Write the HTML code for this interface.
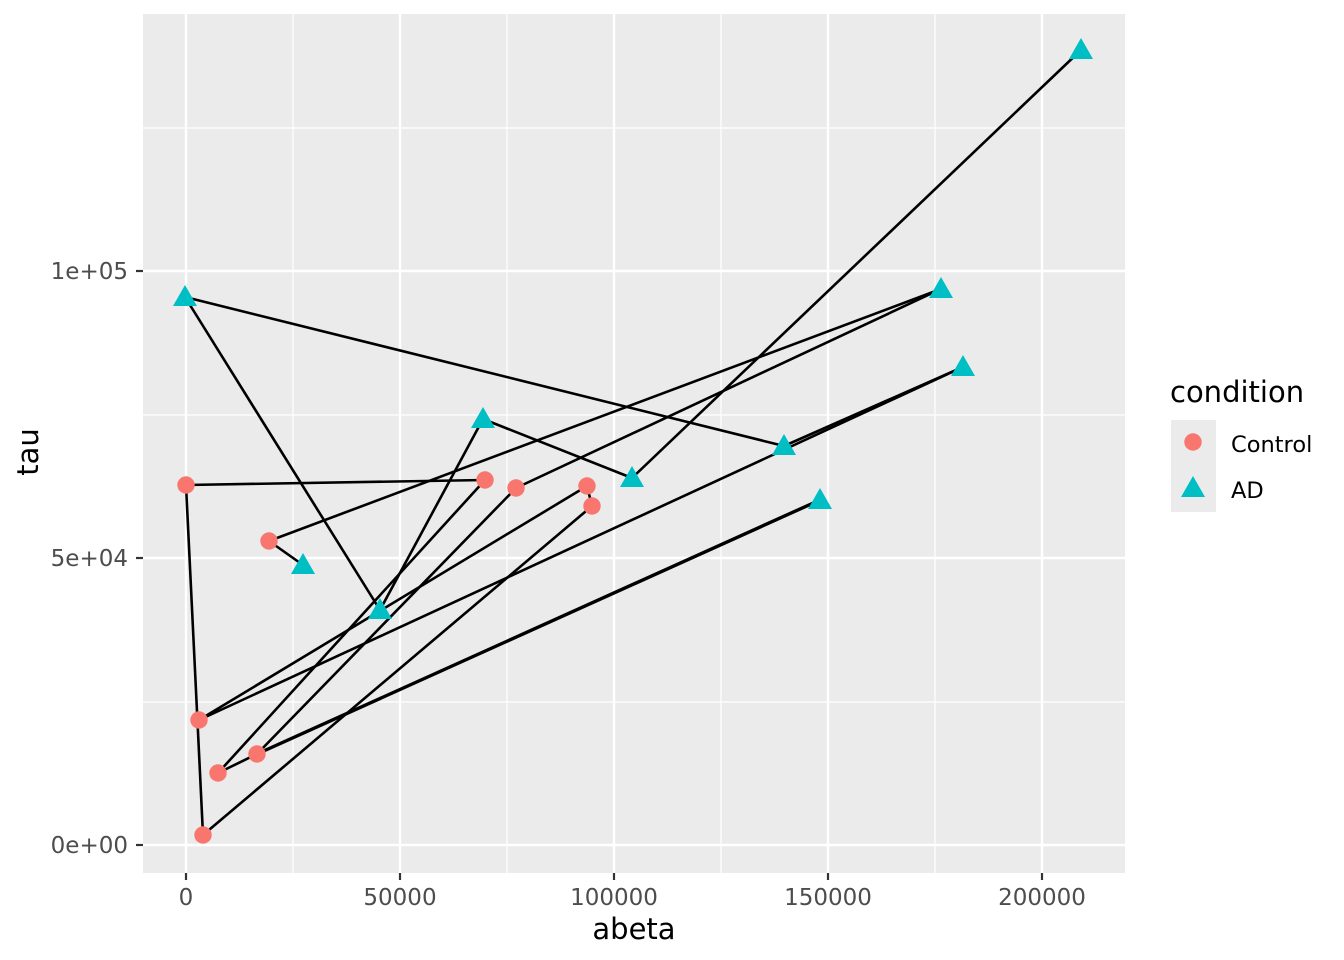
<!DOCTYPE html>
<html><head><style>body{margin:0;background:#fff}svg{display:block}text{font-family:"DejaVu Sans","Liberation Sans",sans-serif}</style></head><body>
<svg width="1344" height="960" viewBox="0 0 1344 960">
<rect x="143" y="14" width="982" height="859" fill="#ebebeb"/>
<g stroke="#fff" stroke-width="1.2">
<line x1="293" y1="14" x2="293" y2="873"/><line x1="507" y1="14" x2="507" y2="873"/><line x1="721" y1="14" x2="721" y2="873"/><line x1="935" y1="14" x2="935" y2="873"/>
<line x1="143" y1="702" x2="1125" y2="702"/><line x1="143" y1="415" x2="1125" y2="415"/><line x1="143" y1="128" x2="1125" y2="128"/>
</g>
<g stroke="#fff" stroke-width="2.4">
<line x1="186" y1="14" x2="186" y2="873"/><line x1="400" y1="14" x2="400" y2="873"/><line x1="614" y1="14" x2="614" y2="873"/><line x1="828" y1="14" x2="828" y2="873"/><line x1="1042" y1="14" x2="1042" y2="873"/>
<line x1="143" y1="845" x2="1125" y2="845"/><line x1="143" y1="558" x2="1125" y2="558"/><line x1="143" y1="271" x2="1125" y2="271"/>
</g>
<g stroke="#000" stroke-width="2.6" fill="none">
<line x1="186" y1="485" x2="485" y2="480"/>
<line x1="186" y1="485" x2="203" y2="835"/>
<line x1="269" y1="541" x2="303" y2="565"/>
<line x1="269" y1="541" x2="941" y2="289"/>
<line x1="516" y1="488" x2="941" y2="289"/>
<line x1="185" y1="297" x2="784" y2="446"/>
<line x1="185" y1="297" x2="380" y2="610"/>
<line x1="483" y1="419" x2="632" y2="478"/>
<line x1="483" y1="419" x2="380" y2="610"/>
<line x1="632" y1="478" x2="1081" y2="50"/>
<line x1="199" y1="720" x2="587" y2="486"/>
<line x1="199" y1="720" x2="963" y2="367"/>
<line x1="784" y1="446" x2="963" y2="367"/>
<line x1="257" y1="754" x2="820" y2="500" stroke-width="3.4"/>
<line x1="257" y1="754" x2="516" y2="488"/>
<line x1="257" y1="754" x2="218" y2="773"/>
<line x1="218" y1="773" x2="485" y2="480"/>
<line x1="203" y1="835" x2="592" y2="506"/>
<line x1="587" y1="486" x2="592" y2="506"/>
</g>
<g fill="#f8766d">
<circle cx="186" cy="485" r="8.7"/><circle cx="485" cy="480" r="8.7"/><circle cx="516" cy="488" r="8.7"/><circle cx="587" cy="486" r="8.7"/><circle cx="592" cy="506" r="8.7"/><circle cx="269" cy="541" r="8.7"/><circle cx="199" cy="720" r="8.7"/><circle cx="218" cy="773" r="8.7"/><circle cx="257" cy="754" r="8.7"/><circle cx="203" cy="835" r="8.7"/>
</g>
<g fill="#00bfc4">
<path d="M0,-12 L12,9 L-12,9Z" transform="translate(1081,50)"/>
<path d="M0,-12 L12,9 L-12,9Z" transform="translate(941,289)"/>
<path d="M0,-12 L12,9 L-12,9Z" transform="translate(963,367)"/>
<path d="M0,-12 L12,9 L-12,9Z" transform="translate(185,297)"/>
<path d="M0,-12 L12,9 L-12,9Z" transform="translate(483,419)"/>
<path d="M0,-12 L12,9 L-12,9Z" transform="translate(632,478)"/>
<path d="M0,-12 L12,9 L-12,9Z" transform="translate(784,446)"/>
<path d="M0,-12 L12,9 L-12,9Z" transform="translate(820,500)"/>
<path d="M0,-12 L12,9 L-12,9Z" transform="translate(303,565)"/>
<path d="M0,-12 L12,9 L-12,9Z" transform="translate(380,610)"/>
</g>
<g stroke="#333" stroke-width="2.2">
<line x1="186" y1="873" x2="186" y2="880"/><line x1="400" y1="873" x2="400" y2="880"/><line x1="614" y1="873" x2="614" y2="880"/><line x1="828" y1="873" x2="828" y2="880"/><line x1="1042" y1="873" x2="1042" y2="880"/>
<line x1="136" y1="845" x2="143" y2="845"/><line x1="136" y1="558" x2="143" y2="558"/><line x1="136" y1="271" x2="143" y2="271"/>
</g>
<g fill="#4d4d4d" font-size="23" text-anchor="middle">
<text x="186" y="905">0</text><text x="400" y="905">50000</text><text x="614" y="905">100000</text><text x="828" y="905">150000</text><text x="1042" y="905">200000</text>
</g>
<g fill="#4d4d4d" font-size="23" text-anchor="end">
<text x="128" y="853">0e+00</text><text x="128" y="566">5e+04</text><text x="128" y="279">1e+05</text>
</g>
<text x="634" y="939" font-size="29" text-anchor="middle">abeta</text>
<text x="0" y="0" font-size="29" text-anchor="middle" transform="translate(38,452) rotate(-90)">tau</text>
<text x="1170" y="402" font-size="29">condition</text>
<rect x="1171" y="420" width="45" height="92" fill="#ebebeb"/>
<circle cx="1193" cy="442" r="8.7" fill="#f8766d"/>
<path d="M0,-12 L12,9 L-12,9Z" transform="translate(1193,488)" fill="#00bfc4"/>
<text x="1231" y="452" font-size="22.5">Control</text>
<text x="1231" y="498" font-size="22.5">AD</text>
</svg>
</body></html>
